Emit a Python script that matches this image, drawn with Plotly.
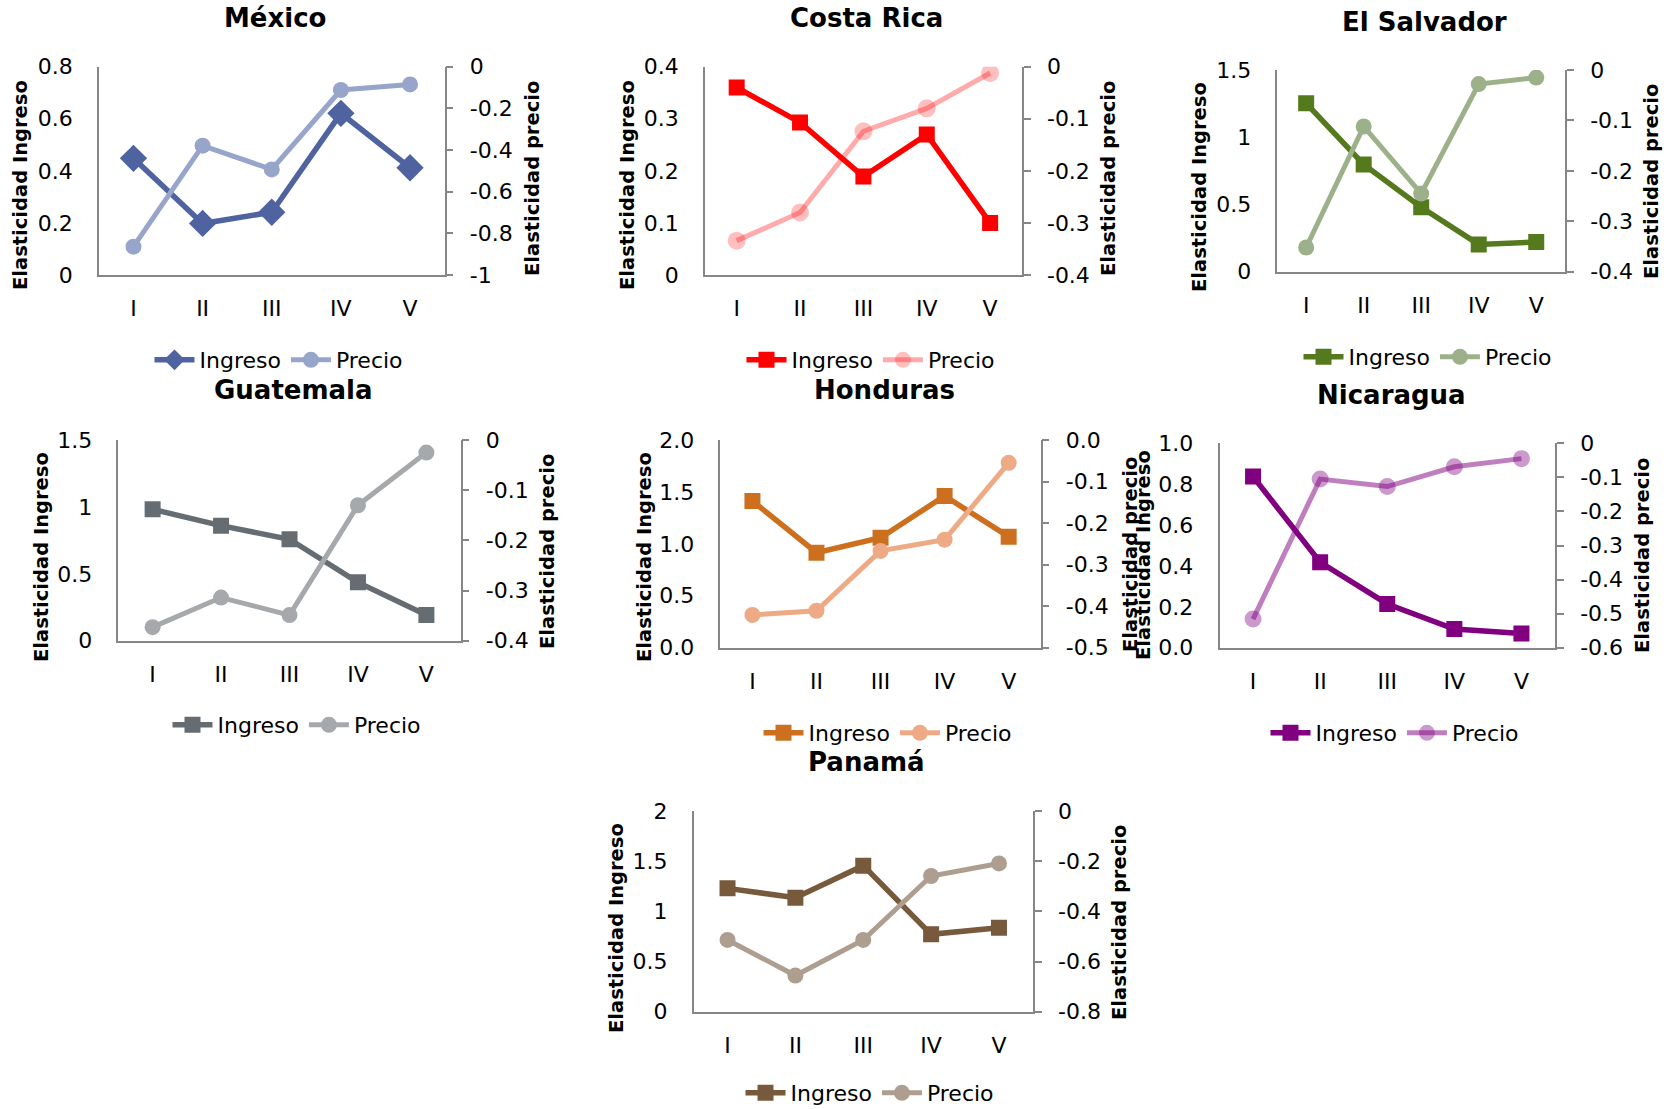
import plotly.graph_objects as go

W, H = 1677, 1109

# ---------------- data ----------------
quintiles = ["I", "II", "III", "IV", "V"]
paises = ["México", "Costa Rica", "El Salvador", "Guatemala", "Honduras", "Nicaragua", "Panamá"]

ingreso_mexico = [0.448, 0.198, 0.241, 0.621, 0.412]
precio_mexico = [-0.864, -0.379, -0.493, -0.112, -0.085]

ingreso_costa_rica = [0.360, 0.293, 0.189, 0.270, 0.100]
precio_costa_rica = [-0.334, -0.280, -0.124, -0.080, -0.012]

ingreso_el_salvador = [1.252, 0.798, 0.479, 0.203, 0.221]
precio_el_salvador = [-0.352, -0.112, -0.245, -0.028, -0.015]

ingreso_guatemala = [0.982, 0.860, 0.758, 0.436, 0.192]
precio_guatemala = [-0.373, -0.314, -0.349, -0.130, -0.025]

ingreso_honduras = [1.413, 0.915, 1.059, 1.461, 1.069]
precio_honduras = [-0.421, -0.411, -0.267, -0.240, -0.055]

ingreso_nicaragua = [0.837, 0.418, 0.214, 0.091, 0.070]
precio_nicaragua = [-0.516, -0.105, -0.127, -0.069, -0.045]

ingreso_panama = [1.229, 1.136, 1.455, 0.771, 0.837]
precio_panama = [-0.514, -0.656, -0.514, -0.259, -0.209]

# tick values / labels (left = ingreso, right = precio)
tv_ing_mexico = [0, 0.2, 0.4, 0.6, 0.8]
tt_ing_mexico = ["0", "0.2", "0.4", "0.6", "0.8"]
tv_pre_mexico = [-1, -0.8, -0.6, -0.4, -0.2, 0]
tt_pre_mexico = ["-1", "-0.8", "-0.6", "-0.4", "-0.2", "0"]

tv_ing_costa_rica = [0, 0.1, 0.2, 0.3, 0.4]
tt_ing_costa_rica = ["0", "0.1", "0.2", "0.3", "0.4"]
tv_pre_costa_rica = [-0.4, -0.3, -0.2, -0.1, 0]
tt_pre_costa_rica = ["-0.4", "-0.3", "-0.2", "-0.1", "0"]

tv_ing_el_salvador = [0, 0.5, 1, 1.5]
tt_ing_el_salvador = ["0", "0.5", "1", "1.5"]
tv_pre_el_salvador = [-0.4, -0.3, -0.2, -0.1, 0]
tt_pre_el_salvador = ["-0.4", "-0.3", "-0.2", "-0.1", "0"]

tv_ing_guatemala = [0, 0.5, 1, 1.5]
tt_ing_guatemala = ["0", "0.5", "1", "1.5"]
tv_pre_guatemala = [-0.4, -0.3, -0.2, -0.1, 0]
tt_pre_guatemala = ["-0.4", "-0.3", "-0.2", "-0.1", "0"]

tv_ing_honduras = [0, 0.5, 1, 1.5, 2]
tt_ing_honduras = ["0.0", "0.5", "1.0", "1.5", "2.0"]
tv_pre_honduras = [-0.5, -0.4, -0.3, -0.2, -0.1, 0]
tt_pre_honduras = ["-0.5", "-0.4", "-0.3", "-0.2", "-0.1", "0.0"]

tv_ing_nicaragua = [0, 0.2, 0.4, 0.6, 0.8, 1.0]
tt_ing_nicaragua = ["0.0", "0.2", "0.4", "0.6", "0.8", "1.0"]
tv_pre_nicaragua = [-0.6, -0.5, -0.4, -0.3, -0.2, -0.1, 0]
tt_pre_nicaragua = ["-0.6", "-0.5", "-0.4", "-0.3", "-0.2", "-0.1", "0"]

tv_ing_panama = [0, 0.5, 1, 1.5, 2]
tt_ing_panama = ["0", "0.5", "1", "1.5", "2"]
tv_pre_panama = [-0.8, -0.6, -0.4, -0.2, 0]
tt_pre_panama = ["-0.8", "-0.6", "-0.4", "-0.2", "0"]

ingresos = [ingreso_mexico, ingreso_costa_rica, ingreso_el_salvador, ingreso_guatemala,
            ingreso_honduras, ingreso_nicaragua, ingreso_panama]
precios = [precio_mexico, precio_costa_rica, precio_el_salvador, precio_guatemala,
           precio_honduras, precio_nicaragua, precio_panama]
ticks_ing = [(tv_ing_mexico, tt_ing_mexico), (tv_ing_costa_rica, tt_ing_costa_rica),
             (tv_ing_el_salvador, tt_ing_el_salvador), (tv_ing_guatemala, tt_ing_guatemala),
             (tv_ing_honduras, tt_ing_honduras), (tv_ing_nicaragua, tt_ing_nicaragua),
             (tv_ing_panama, tt_ing_panama)]
ticks_pre = [(tv_pre_mexico, tt_pre_mexico), (tv_pre_costa_rica, tt_pre_costa_rica),
             (tv_pre_el_salvador, tt_pre_el_salvador), (tv_pre_guatemala, tt_pre_guatemala),
             (tv_pre_honduras, tt_pre_honduras), (tv_pre_nicaragua, tt_pre_nicaragua),
             (tv_pre_panama, tt_pre_panama)]

# ---------------- styles / layout geometry (pixels) ----------------
# left, right, top, bottom, title(x,y), left-title(x,y), right-title(x,y), legend(x,y)
geom = [
    (98.9, 444.6, 66.7, 275.0, 275, 18, 21, 185, 532, 179, 279, 360),
    (705.0, 1021.8, 66.7, 275.0, 867, 18, 628, 185, 1108, 179, 871, 360),
    (1277.4, 1565.0, 70.0, 271.7, 1424, 22, 1200, 187, 1651, 182, 1428, 357),
    (118.4, 460.6, 440.0, 640.7, 293, 390, 41, 557, 547, 552, 297, 725),
    (720.4, 1040.7, 440.0, 647.7, 884, 390, 644, 557, 1130, 555, 888, 733),
    (1219.5, 1555.0, 443.3, 647.7, 1391, 395, 1143, 555, 1642, 556, 1395, 733),
    (693.6, 1032.9, 811.0, 1011.7, 866, 762, 616, 928, 1119, 923, 870, 1093),
]

styles = [
    # ingreso color, ingreso symbol, ingreso size, precio line color, precio marker color, precio size
    ("#4F63A1", "diamond", 21, "#97A5CB", "#97A5CB", 16),
    ("#FF0000", "square", 16, "rgba(255,0,0,0.33)", "rgba(255,0,0,0.25)", 18),
    ("#557A1E", "square", 16, "#9CB189", "#9CB189", 16),
    ("#656D73", "square", 16, "#A6A9AC", "#A6A9AC", 16),
    ("#CC7020", "square", 16, "#EDAA85", "#EDAA85", 16),
    ("#800080", "square", 16, "rgba(128,0,128,0.5)", "rgba(128,0,128,0.4)", 17),
    ("#775A3C", "square", 16, "#AE9E90", "#AE9E90", 16),
]

FONT = "DejaVu Sans"
AX = "#868686"

fig = go.Figure()
layout = dict(
    width=W, height=H, margin=dict(l=0, r=0, t=0, b=0, autoexpand=False),
    paper_bgcolor="white", plot_bgcolor="white",
    font=dict(family=FONT, size=22, color="black"),
    showlegend=True,
)
annotations = []

def px(x):
    return x / W

def py(y):
    return 1 - y / H

for i in range(7):
    L, R, T, B, tx, ty, ltx, lty, rtx, rty, lgx, lgy = geom[i]
    ci, sym, sz, pl, pm, ps = styles[i]
    n = i + 1
    xa = "x" if n == 1 else f"x{n}"
    ya_l = f"y{2 * n - 1}" if n > 1 else "y"
    ya_r = f"y{2 * n}"
    leg = "legend" if n == 1 else f"legend{n}"

    fig.add_trace(go.Scatter(
        x=quintiles, y=ingresos[i], name="Ingreso", mode="lines+markers",
        xaxis=xa, yaxis=ya_l, legend=leg,
        line=dict(color=ci, width=5.5),
        marker=dict(symbol=sym, size=sz, color=ci),
    ))
    fig.add_trace(go.Scatter(
        x=quintiles, y=precios[i], name="Precio", mode="lines+markers",
        xaxis=xa, yaxis=ya_r, legend=leg,
        line=dict(color=pl, width=5),
        marker=dict(symbol="circle", size=ps, color=pm),
    ))

    xkey = "xaxis" if n == 1 else f"xaxis{n}"
    ylkey = "yaxis" if n == 1 else f"yaxis{2 * n - 1}"
    yrkey = f"yaxis{2 * n}"

    layout[xkey] = dict(
        domain=[px(L), px(R)], anchor=ya_l, type="category",
        range=[-0.5, 4.5], showline=True, linecolor=AX, linewidth=1.5,
        showgrid=False, zeroline=False, ticks="", ticklabelstandoff=13,
        tickfont=dict(size=22, family=FONT, color="black"), fixedrange=True,
    )
    tv, tt = ticks_ing[i]
    layout[ylkey] = dict(
        domain=[py(B), py(T)], anchor=xa, range=[tv[0], tv[-1]],
        tickvals=tv, ticktext=tt, showline=True, linecolor=AX, linewidth=1.5,
        showgrid=False, zeroline=False, ticks="", ticklabelstandoff=20,
        tickfont=dict(size=22, family=FONT, color="black"),
    )
    tv2, tt2 = ticks_pre[i]
    layout[yrkey] = dict(
        domain=[py(B), py(T)], anchor=xa, overlaying=ya_l, side="right",
        range=[tv2[0], tv2[-1]], tickvals=tv2, ticktext=tt2,
        showline=True, linecolor=AX, linewidth=1.5, showgrid=False, zeroline=False,
        ticks="outside", ticklen=7, tickwidth=1.5, tickcolor=AX, ticklabelstandoff=12,
        tickfont=dict(size=22, family=FONT, color="black"),
    )
    layout[leg] = dict(
        orientation="h", x=px(lgx), xanchor="center", y=py(lgy), yanchor="middle",
        font=dict(size=22, family=FONT, color="black"), bgcolor="rgba(0,0,0,0)",
        itemwidth=40, tracegroupgap=0,
    )

    annotations.append(dict(
        text=f"<b>{paises[i]}</b>", x=px(tx), y=py(ty), xref="paper", yref="paper",
        xanchor="center", yanchor="middle", showarrow=False,
        font=dict(size=26, family=FONT, color="black"),
    ))
    annotations.append(dict(
        text="<b>Elasticidad Ingreso</b>", x=px(ltx), y=py(lty), xref="paper", yref="paper",
        xanchor="center", yanchor="middle", showarrow=False, textangle=-90,
        font=dict(size=19.5, family=FONT, color="black"),
    ))
    annotations.append(dict(
        text="<b>Elasticidad precio</b>", x=px(rtx), y=py(rty), xref="paper", yref="paper",
        xanchor="center", yanchor="middle", showarrow=False, textangle=-90,
        font=dict(size=19.5, family=FONT, color="black"),
    ))

layout["annotations"] = annotations
fig.update_layout(**layout)
fig.write_html("out.html")
